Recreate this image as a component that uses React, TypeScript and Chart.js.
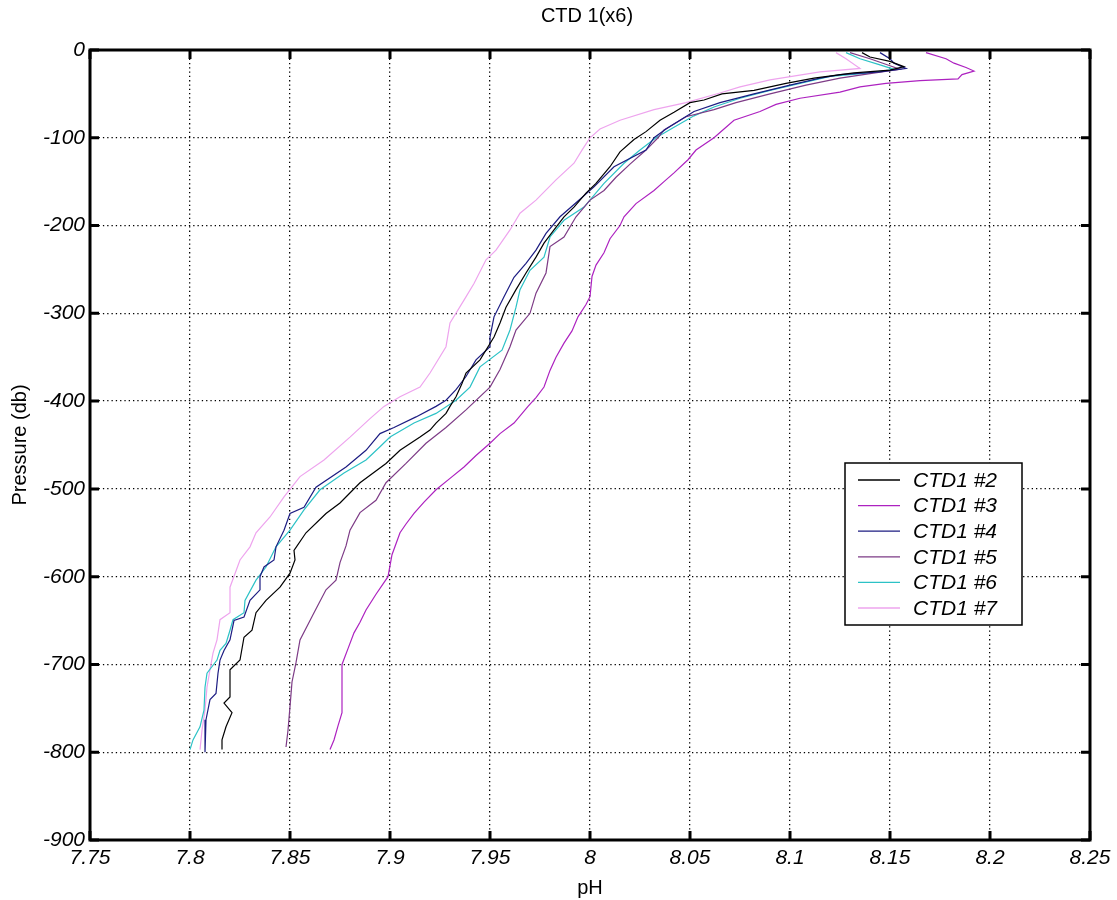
import { useEffect, useRef } from 'react';
import { Chart, registerables } from 'chart.js';

Chart.register(...registerables);

const chartTitle = 'CTD 1(x6)';
const xAxisTitle = 'pH';
const yAxisTitle = 'Pressure (db)';

const seriesLabels = ['CTD1 #2', 'CTD1 #3', 'CTD1 #4', 'CTD1 #5', 'CTD1 #6', 'CTD1 #7'];
const seriesColors = ['#000000', '#ad22c0', '#1c1c82', '#7d3b86', '#2cc2c6', '#eea4ee'];

const xTickValues = [7.75, 7.8, 7.85, 7.9, 7.95, 8, 8.05, 8.1, 8.15, 8.2, 8.25];
const xTickLabels = ['7.75', '7.8', '7.85', '7.9', '7.95', '8', '8.05', '8.1', '8.15', '8.2', '8.25'];
const yTickValues = [0, -100, -200, -300, -400, -500, -600, -700, -800, -900];
const yTickLabels = ['0', '-100', '-200', '-300', '-400', '-500', '-600', '-700', '-800', '-900'];

// [pressure (db), pH]
const ctd2: [number, number][] = [
  [-3, 8.136], [-8, 8.14], [-13, 8.15], [-19, 8.157], [-23, 8.15], [-26, 8.132], [-32, 8.112], [-38, 8.098],
  [-46, 8.082], [-50, 8.066], [-57, 8.057], [-60, 8.05], [-71, 8.042], [-80, 8.035], [-93, 8.028], [-102, 8.022],
  [-116, 8.015], [-133, 8.01], [-152, 8.003], [-163, 7.998], [-179, 7.992], [-190, 7.987], [-205, 7.982],
  [-220, 7.977], [-236, 7.973], [-254, 7.968], [-273, 7.963], [-293, 7.958], [-311, 7.955], [-327, 7.952],
  [-353, 7.945], [-368, 7.938], [-380, 7.936], [-395, 7.933], [-406, 7.93], [-414, 7.928], [-425, 7.923],
  [-433, 7.92], [-441, 7.915], [-456, 7.905], [-471, 7.898], [-493, 7.885], [-516, 7.875], [-528, 7.868],
  [-550, 7.858], [-570, 7.852], [-581, 7.8525], [-596, 7.85], [-612, 7.845], [-627, 7.838], [-641, 7.833],
  [-661, 7.831], [-669, 7.827], [-695, 7.825], [-706, 7.82], [-737, 7.82], [-744, 7.817], [-755, 7.821],
  [-771, 7.818], [-786, 7.816], [-797, 7.816],
];

const ctd3: [number, number][] = [
  [-3, 8.168], [-10, 8.178], [-15, 8.182], [-20, 8.188], [-24, 8.192], [-28, 8.186], [-33, 8.184], [-35, 8.165],
  [-38, 8.148], [-42, 8.135], [-48, 8.125], [-55, 8.105], [-62, 8.093], [-70, 8.085], [-80, 8.072], [-90, 8.067],
  [-100, 8.062], [-114, 8.053], [-125, 8.049], [-140, 8.042], [-150, 8.037], [-160, 8.032], [-175, 8.023],
  [-190, 8.017], [-200, 8.015], [-215, 8.01], [-231, 8.007], [-245, 8.003], [-258, 8.001], [-281, 8.0],
  [-290, 7.998], [-304, 7.994], [-320, 7.991], [-334, 7.987], [-350, 7.983], [-365, 7.98], [-384, 7.977],
  [-396, 7.973], [-406, 7.969], [-425, 7.962], [-437, 7.955], [-448, 7.95], [-462, 7.943], [-475, 7.937],
  [-488, 7.93], [-501, 7.923], [-515, 7.917], [-528, 7.912], [-540, 7.908], [-550, 7.905], [-575, 7.901],
  [-600, 7.899], [-620, 7.893], [-638, 7.888], [-652, 7.885], [-664, 7.882], [-682, 7.879], [-700, 7.876],
  [-730, 7.876], [-755, 7.876], [-770, 7.874], [-786, 7.872], [-797, 7.87],
];

const ctd4: [number, number][] = [
  [-3, 8.145], [-10, 8.15], [-15, 8.152], [-21, 8.158], [-25, 8.145], [-28, 8.125], [-32, 8.115], [-40, 8.1],
  [-50, 8.082], [-60, 8.065], [-70, 8.052], [-80, 8.045], [-90, 8.038], [-100, 8.032], [-114, 8.028],
  [-133, 8.012], [-156, 8.002], [-174, 7.993], [-190, 7.985], [-209, 7.978], [-228, 7.973], [-243, 7.968],
  [-259, 7.962], [-281, 7.957], [-304, 7.952], [-327, 7.95], [-338, 7.95], [-353, 7.943], [-372, 7.938],
  [-387, 7.933], [-399, 7.928], [-406, 7.923], [-418, 7.913], [-430, 7.902], [-437, 7.895], [-456, 7.888],
  [-475, 7.878], [-498, 7.863], [-521, 7.857], [-528, 7.85], [-547, 7.847], [-566, 7.843], [-581, 7.842],
  [-589, 7.837], [-600, 7.835], [-615, 7.835], [-627, 7.83], [-646, 7.827], [-650, 7.822], [-672, 7.82],
  [-684, 7.817], [-695, 7.815], [-710, 7.814], [-733, 7.813], [-740, 7.81], [-763, 7.808], [-800, 7.8075],
];

const ctd5: [number, number][] = [
  [-3, 8.13], [-10, 8.14], [-18, 8.15], [-22, 8.155], [-27, 8.14], [-32, 8.125], [-40, 8.108], [-50, 8.09],
  [-60, 8.073], [-68, 8.062], [-76, 8.048], [-91, 8.037], [-100, 8.034], [-114, 8.028], [-130, 8.02],
  [-145, 8.013], [-160, 8.007], [-171, 8.0], [-190, 7.993], [-213, 7.987], [-224, 7.98], [-254, 7.978],
  [-277, 7.973], [-300, 7.97], [-319, 7.963], [-338, 7.96], [-364, 7.955], [-384, 7.95], [-410, 7.938],
  [-430, 7.928], [-448, 7.918], [-471, 7.908], [-493, 7.898], [-513, 7.893], [-527, 7.885], [-547, 7.88],
  [-565, 7.878], [-584, 7.875], [-604, 7.873], [-615, 7.868], [-641, 7.862], [-672, 7.855], [-698, 7.853],
  [-720, 7.851], [-748, 7.85], [-775, 7.849], [-794, 7.848],
];

const ctd6: [number, number][] = [
  [-3, 8.128], [-10, 8.135], [-17, 8.145], [-22, 8.152], [-26, 8.14], [-30, 8.12], [-38, 8.105], [-46, 8.09],
  [-55, 8.075], [-65, 8.062], [-75, 8.052], [-88, 8.042], [-100, 8.033], [-114, 8.025], [-129, 8.017],
  [-152, 8.007], [-179, 7.997], [-194, 7.987], [-213, 7.98], [-236, 7.977], [-251, 7.97], [-273, 7.965],
  [-293, 7.963], [-319, 7.96], [-342, 7.956], [-361, 7.945], [-384, 7.94], [-399, 7.933], [-414, 7.923],
  [-425, 7.912], [-441, 7.9], [-452, 7.895], [-467, 7.888], [-482, 7.877], [-501, 7.865], [-524, 7.857],
  [-547, 7.85], [-566, 7.843], [-589, 7.838], [-604, 7.833], [-627, 7.8275], [-641, 7.827], [-649, 7.8215],
  [-661, 7.82], [-676, 7.818], [-684, 7.815], [-695, 7.8135], [-710, 7.8085], [-726, 7.8075], [-752, 7.807],
  [-771, 7.805], [-786, 7.8015], [-797, 7.8],
];

const ctd7: [number, number][] = [
  [-3, 8.123], [-10, 8.128], [-21, 8.135], [-25, 8.115], [-34, 8.09], [-42, 8.075], [-49, 8.065], [-60, 8.048],
  [-68, 8.032], [-80, 8.015], [-90, 8.005], [-100, 8.0], [-114, 7.996], [-129, 7.992], [-148, 7.983],
  [-171, 7.973], [-186, 7.965], [-205, 7.96], [-228, 7.953], [-239, 7.948], [-266, 7.942], [-285, 7.937],
  [-311, 7.93], [-338, 7.928], [-368, 7.92], [-384, 7.915], [-395, 7.905], [-406, 7.897], [-420, 7.89],
  [-441, 7.88], [-467, 7.867], [-486, 7.855], [-509, 7.847], [-532, 7.84], [-550, 7.833], [-566, 7.83],
  [-581, 7.825], [-612, 7.82], [-641, 7.82], [-649, 7.815], [-672, 7.8135], [-687, 7.8115], [-706, 7.81],
  [-726, 7.8085], [-752, 7.8075], [-775, 7.806], [-797, 7.805],
];

const seriesData = [ctd2, ctd3, ctd4, ctd5, ctd6, ctd7];

const FONT = '"Liberation Sans", Arial, Helvetica, sans-serif';

const framePlugin = {
  id: 'matlabFrame',
  afterDraw(chart: any) {
    const { ctx, chartArea } = chart;
    const { left, right, top, bottom } = chartArea;
    const xs = chart.scales.x;
    const ys = chart.scales.y;
    ctx.save();
    ctx.strokeStyle = '#000';
    ctx.lineWidth = 3;
    ctx.beginPath();
    const tl = 9;
    for (const v of xTickValues) {
      const px = xs.getPixelForValue(v);
      ctx.moveTo(px, bottom);
      ctx.lineTo(px, bottom - tl);
      ctx.moveTo(px, top);
      ctx.lineTo(px, top + tl);
    }
    for (const v of yTickValues) {
      const py = ys.getPixelForValue(v);
      ctx.moveTo(left, py);
      ctx.lineTo(left + tl, py);
      ctx.moveTo(right, py);
      ctx.lineTo(right - tl, py);
    }
    ctx.stroke();
    ctx.strokeRect(left, top, right - left, bottom - top);

    // title
    ctx.fillStyle = '#000';
    ctx.font = `20px ${FONT}`;
    ctx.textAlign = 'center';
    ctx.textBaseline = 'middle';
    ctx.fillText(chartTitle, (left + right) / 2 - 3, 16);

    // legend
    const lx = right - 245;
    const ly = top + 413;
    const lw = 177;
    const lh = 162;
    ctx.fillStyle = '#fff';
    ctx.fillRect(lx, ly, lw, lh);
    ctx.lineWidth = 1.5;
    ctx.strokeStyle = '#000';
    ctx.strokeRect(lx, ly, lw, lh);
    ctx.font = `italic 21px ${FONT}`;
    ctx.textAlign = 'left';
    ctx.textBaseline = 'middle';
    seriesLabels.forEach((label, i) => {
      const ry = ly + 17 + i * 25.6;
      ctx.strokeStyle = seriesColors[i];
      ctx.lineWidth = 1.3;
      ctx.beginPath();
      ctx.moveTo(lx + 13, ry);
      ctx.lineTo(lx + 55, ry);
      ctx.stroke();
      ctx.fillStyle = '#000';
      ctx.fillText(label, lx + 68, ry + 1);
    });
    ctx.restore();
  },
};

export default function App() {
  const canvasRef = useRef<HTMLCanvasElement | null>(null);

  useEffect(() => {
    const canvas = canvasRef.current;
    if (!canvas) return;
    const chart = new Chart(canvas, {
      type: 'scatter',
      data: {
        datasets: seriesData.map((series, i) => ({
          label: seriesLabels[i],
          data: series.map(([p, ph]) => ({ x: ph, y: p })),
          showLine: true,
          borderColor: seriesColors[i],
          backgroundColor: seriesColors[i],
          borderWidth: 1.2,
          pointRadius: 0,
          pointHoverRadius: 0,
          tension: 0,
        })),
      },
      options: {
        animation: false,
        responsive: false,
        devicePixelRatio: 1,
        layout: { padding: { top: 50, right: 27, left: 0, bottom: 0 } },
        plugins: {
          legend: { display: false },
          title: { display: false },
          tooltip: { enabled: false },
        },
        scales: {
          x: {
            type: 'linear',
            min: 7.75,
            max: 8.25,
            afterBuildTicks: (scale: any) => {
              scale.ticks = xTickValues.map((v) => ({ value: v }));
            },
            afterFit: (scale: any) => {
              scale.height = 60;
              scale.paddingLeft = 0;
              scale.paddingRight = 0;
            },
            ticks: {
              autoSkip: false,
              maxRotation: 0,
              padding: 6,
              color: '#000',
              font: { family: FONT, size: 21, style: 'italic' },
              callback: (_v: any, idx: number) => xTickLabels[idx],
            },
            grid: { color: '#000', lineWidth: 1.3, drawTicks: false },
            border: { display: false, dash: [1.3, 3] },
            title: {
              display: true,
              text: xAxisTitle,
              color: '#000',
              font: { family: FONT, size: 20 },
              padding: { top: 0, bottom: 0 },
            },
          },
          y: {
            type: 'linear',
            min: -900,
            max: 0,
            afterBuildTicks: (scale: any) => {
              scale.ticks = yTickValues.map((v) => ({ value: v }));
            },
            afterFit: (scale: any) => {
              scale.width = 90;
              scale.paddingTop = 0;
              scale.paddingBottom = 0;
            },
            ticks: {
              autoSkip: false,
              padding: 5,
              color: '#000',
              font: { family: FONT, size: 21, style: 'italic' },
              callback: (_v: any, idx: number) => yTickLabels[idx],
            },
            grid: { color: '#000', lineWidth: 1.3, drawTicks: false },
            border: { display: false, dash: [1.3, 3] },
            title: {
              display: true,
              text: yAxisTitle,
              color: '#000',
              font: { family: FONT, size: 20 },
              padding: { top: 8, bottom: 0 },
            },
          },
        },
      },
      plugins: [framePlugin],
    });
    return () => chart.destroy();
  }, []);

  return (
    <div style={{ position: 'fixed', left: 0, top: 0, width: 1117, height: 900, background: '#fff' }}>
      <canvas ref={canvasRef} width={1117} height={900} style={{ display: 'block' }} />
    </div>
  );
}
